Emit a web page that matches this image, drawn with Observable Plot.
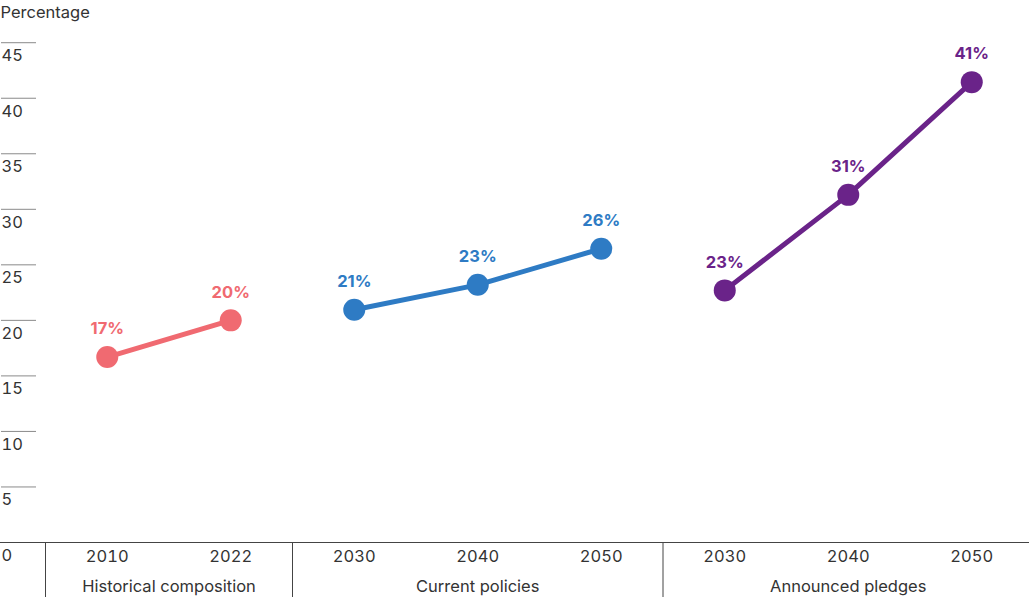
<!DOCTYPE html>
<html>
<head>
<meta charset="utf-8">
<script src="https://cdn.jsdelivr.net/npm/d3@7"></script>
<script src="https://cdn.jsdelivr.net/npm/@observablehq/plot@0.6"></script>
<style>
  html, body { margin: 0; padding: 0; background: #fff; }
  #chart svg { display: block; }
</style>
</head>
<body>
<div id="chart"></div>
<script>
// ---- data ----
const groups = ["Historical composition", "Current policies", "Announced pledges"];
const groupColors = ["#F06A71", "#2E7BC4", "#6A2389"];
const years = ["2010", "2022", "2030", "2040", "2050", "2030", "2040", "2050"];
const groupOf = [0, 0, 1, 1, 1, 2, 2, 2];
const values = [16.7, 20.0, 20.95, 23.2, 26.45, 22.7, 31.3, 41.45];
const valueLabels = ["17%", "20%", "21%", "23%", "26%", "23%", "31%", "41%"];
const yTicks = [0, 5, 10, 15, 20, 25, 30, 35, 40, 45];
const yLabel = "Percentage";

// ---- derived tables ----
const rows = values.map((v, i) => ({i, year: years[i], group: groups[groupOf[i]], value: v, label: valueLabels[i]}));
const groupInfo = groups.map((g, k) => {
  const idx = rows.filter(r => r.group === g).map(r => r.i);
  return {group: g, first: d3.min(idx), last: d3.max(idx), center: (d3.min(idx) + d3.max(idx)) / 2};
});
const boundaries = [groupInfo[0].first - 0.5, ...groupInfo.map(g => g.last + 0.5)];

const font = "Inter, 'Noto Sans', sans-serif";

const chart = Plot.plot({
  width: 1029,
  height: 597,
  marginTop: 20,
  marginBottom: 55,
  marginLeft: 45,
  marginRight: -4,
  style: {fontFamily: font, fontSize: "16px", color: "#333", background: "#fff"},
  x: {type: "linear", domain: [-0.5, values.length - 0.5]},
  y: {domain: [0, 47]},
  color: {domain: groups, range: groupColors},
  marks: [
    // y ticks: short line above each label
    Plot.axisY(yTicks.slice(1), {anchor: "left", tickSize: 35, dx: -9, stroke: "#8a8a8a", tickFormat: () => "", label: null}),
    Plot.axisY(yTicks, {
      anchor: "left", tickSize: 0, tickPadding: 0, dx: -44,
      textAnchor: "start", dy: 13, fill: "#333", fontSize: 16.5, label: null
    }),
    Plot.text([yLabel], {frameAnchor: "top-left", dx: -45, dy: -14, textAnchor: "start", fill: "#333", fontSize: 16.5}),
    // baseline
    Plot.ruleY([0], {stroke: "#444", strokeWidth: 1, insetLeft: -45}),
    // group separators below baseline
    Plot.axisX(boundaries, {anchor: "bottom", tickSize: 55, stroke: "#444", tickFormat: () => "", label: null}),
    // year labels
    Plot.axisX(rows.map(r => r.i), {anchor: "bottom", tickSize: 0, tickPadding: 8, tickFormat: i => years[i], fill: "#333", fontSize: 16.5, label: null}),
    // group labels
    Plot.text(groupInfo, {x: "center", text: "group", frameAnchor: "bottom", dy: 49, fill: "#333", fontSize: 16.5}),
    // lines and dots
    Plot.line(rows, {x: "i", y: "value", z: "group", stroke: "group", strokeWidth: 5}),
    Plot.dot(rows, {x: "i", y: "value", fill: "group", r: 11, stroke: null}),
    Plot.text(rows, {x: "i", y: "value", text: "label", fill: "group", dy: -28, fontWeight: "bold", fontSize: 16.5})
  ]
});

document.getElementById("chart").appendChild(chart);
</script>
</body>
</html>
